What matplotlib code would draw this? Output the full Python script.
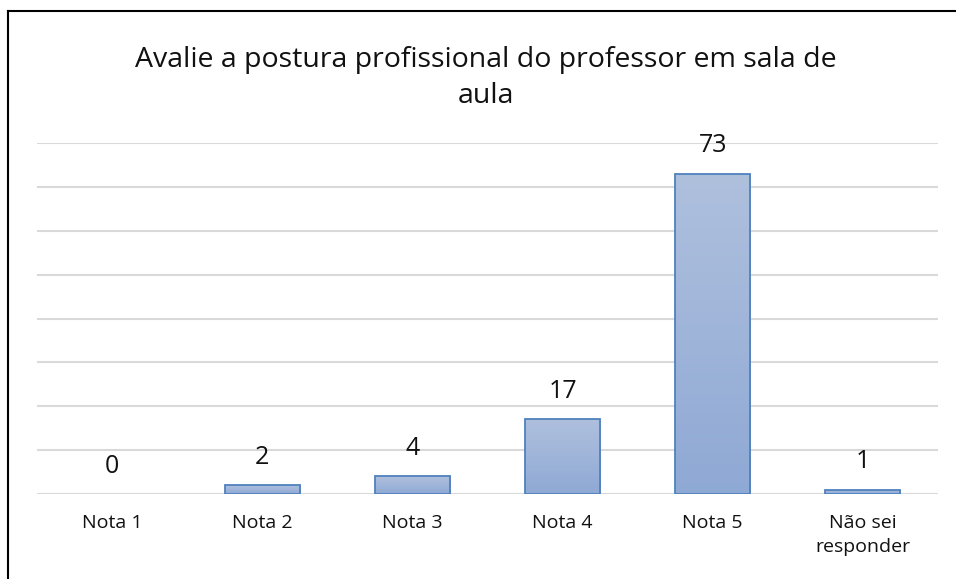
import numpy as np
from matplotlib import pyplot as plt
from matplotlib.lines import Line2D
from matplotlib.colors import LinearSegmentedColormap

# chart data
categories: list[str] = ['Nota 1', 'Nota 2', 'Nota 3', 'Nota 4', 'Nota 5', 'Não sei\nresponder']
counts: list[int] = [0, 2, 4, 17, 73, 1]
title: str = 'Avalie a postura profissional do professor em sala de\naula'

plt.rcParams['font.family'] = ['Open Sans', 'DejaVu Sans']

fig = plt.figure(figsize=(9.56, 5.79), dpi=100)
ax = fig.add_axes([37 / 956, 1 - 494 / 579, 901 / 956, 351 / 579])

x = np.arange(len(categories))
bars = ax.bar(x, counts, width=0.5, color='none', edgecolor='#4f81bd', linewidth=1.3, zorder=3)

# vertical gradient inside each bar, light at top
grad_cmap = LinearSegmentedColormap.from_list('bar_grad', ['#8fa9d5', '#afc0dd'])
gradient = np.linspace(0, 1, 256).reshape(-1, 1)
for bar in bars:
    if bar.get_height() <= 0:
        bar.set_edgecolor('none')  # a zero bar draws nothing
        continue
    bx, by = bar.get_x(), bar.get_y()
    img = ax.imshow(gradient, cmap=grad_cmap, origin='lower', aspect='auto',
                    extent=(bx, bx + bar.get_width(), by, by + bar.get_height()), zorder=2)
    img.set_clip_path(bar)

for xi, val in zip(x, counts):
    ax.annotate(str(val), (xi, val), xytext=(0, 20), textcoords='offset points',
                ha='center', va='center', fontsize=18, color='#111111')

ax.set_xlim(-0.5, len(categories) - 0.5)
ax.set_ylim(0, 80)
ax.set_yticks(np.arange(0, 81, 10))
ax.yaxis.grid(True, color='#d9d9d9', linewidth=1.5, zorder=0)
ax.set_axisbelow(True)
ax.tick_params(axis='y', left=False, labelleft=False)
ax.tick_params(axis='x', bottom=False, pad=11)
ax.set_xticks(x)
ax.set_xticklabels(categories, fontsize=14, color='#111111', linespacing=1.45)
for side in ['top', 'right', 'left', 'bottom']:
    ax.spines[side].set_visible(False)

fig.text(486 / 956, 1 - 78 / 579, title, ha='center', va='center', fontsize=20.5,
         color='#111111', linespacing=1.4)

# outer frame, only left and top edges are visible in the crop
fig.add_artist(Line2D([8 / 956, 8 / 956], [0, 1 - 11 / 579], color='black', linewidth=1.5))
fig.add_artist(Line2D([8 / 956, 1], [1 - 11 / 579, 1 - 11 / 579], color='black', linewidth=1.5))

plt.savefig('out.png', dpi=100)
